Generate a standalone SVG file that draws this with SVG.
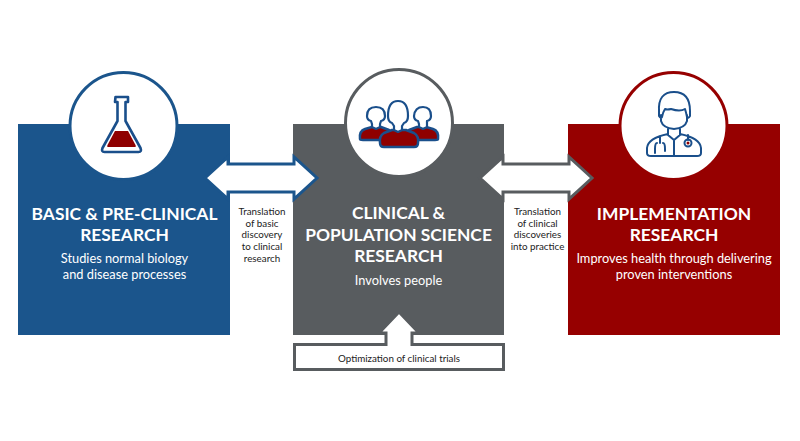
<svg xmlns="http://www.w3.org/2000/svg" width="800" height="441" viewBox="0 0 800 441">
<style>
text{font-family:Lato,"Open Sans","Liberation Sans",sans-serif;text-anchor:middle}
.t{font-size:17.400px;font-weight:700;fill:#fff}
.s{font-size:12.800px;fill:#fff}
.l{font-size:9.800px;fill:#222}
.c{fill:#fff;stroke-width:3}
.i{fill:none;stroke:#1a4f8b;stroke-width:2;stroke-linejoin:round;stroke-linecap:round}
.r{fill:#8f0000;stroke:#1a4f8b;stroke-width:2.500;stroke-linejoin:round}
.w{fill:#fff;stroke:#1a4f8b;stroke-width:2.200;stroke-linejoin:round}
</style>
<rect width="800" height="441" fill="#fff"/>
<g id="basic">
<rect x="18" y="124" width="212" height="211" fill="#1b558c"/>
<circle class="c" cx="123.500" cy="126" r="53.500" stroke="#1b558c"/>
<path class="i" style="stroke-width:2.600" d="M115.500 97h12.500v5h-2.500v19l15 27q1.500 4-2 4h-34q-3.500 0-2-4l15-27v-19h-2.500z"/>
<path d="M115 131h13l7.500 14q1 2-1 2h-26q-2 0-1-2z" fill="#8f0000"/>
<text class="t" x="124.500" y="220">BASIC &amp; PRE-CLINICAL</text>
<text class="t" x="124.500" y="241">RESEARCH</text>
<text class="s" x="124.500" y="263">Studies normal biology</text>
<text class="s" x="124.500" y="279">and disease processes</text>
</g>
<g id="clinical">
<rect x="293" y="124" width="211" height="211" fill="#585c5f"/>
<circle class="c" cx="399" cy="123" r="53.500" stroke="#585c5f"/>
<path class="r" d="M360 139q-1-8 5-10l7-2h9l8 3 8 10-6 0H363q-3 0-3-1zM438 139q1-8-5-10l-7-2h-9l-8 3-8 10 6 0h28q3 0 3-1z"/>
<path class="w" d="M371 121q-4-1-4-5 0-9 9-9t9 9q0 4-4 5l-1 3v3l-4 2-4-2v-3zM427 121q4-1 4-5 0-9-8-9t-9 9q0 4 4 5l1 3v3l4 2 4-2v-3z"/>
<path class="r" d="M380 143q-1-7 4-10l8-3h14l8 3q5 3 4 10 0 4-4 4h-30q-4 0-4-4z"/>
<path class="w" d="M392 123q-4-1-4-7 0-15 10-15t10 15q0 6-4 7l-2 3v4l-4 2-4-2v-4z"/>
<text class="t" x="398.500" y="219">CLINICAL &amp;</text>
<text class="t" x="398.500" y="241">POPULATION SCIENCE</text>
<text class="t" x="398.500" y="262">RESEARCH</text>
<text class="s" x="398.500" y="285">Involves people</text>
</g>
<g id="implementation">
<rect x="568" y="124" width="212" height="211" fill="#960000"/>
<circle class="c" cx="673.500" cy="126" r="53.500" stroke="#960000"/>
<path class="i" d="M659 111q-1-19 15-19t16 19v5q-2 3-3 1-1-5-2-8-5 3-14 0-4 1-6 0-2 3-3 8-1 2-3-1zM661 115v6q2 7 13 8 11-1 13-8v-6M668 129v6l6 5 6-5v-6M668 134q-20 4-21 14v5q0 3 4 3h46q4 0 4-3v-5q-1-10-21-14M674 140v16M660 136v7M657 143q-2 0-2 6v4M663 143q2 0 2 6v2M688 135v5"/>
<circle class="i" cx="688" cy="143" r="3.500"/>
<circle cx="688" cy="143" r="1.500" fill="#8f0000"/>
<text class="t" x="674" y="220">IMPLEMENTATION</text>
<text class="t" x="674" y="241">RESEARCH</text>
<text class="s" x="674" y="263">Improves health through delivering</text>
<text class="s" x="674" y="279">proven interventions</text>
</g>
<g id="connectors">
<path d="M205 178 228 157V164H294V157L317 178 294 199V192H228V199Z" fill="#fff" stroke="#1b558c" stroke-width="3"/>
<path d="M480 178 503 157V164H569V157L592 178 569 199V192H503V199Z" fill="#fff" stroke="#585c5f" stroke-width="3"/>
<path d="M294.500 344.500H386V333H379L399 312 419 333H412V344.500H503.500V369.500H294.500Z" fill="#fff" stroke="#585c5f" stroke-width="3"/>
</g>
<g id="labels">
<text class="l" x="262" y="215">Translation</text>
<text class="l" x="262" y="227">of basic</text>
<text class="l" x="262" y="238">discovery</text>
<text class="l" x="262" y="250">to clinical</text>
<text class="l" x="262" y="262">research</text>
<text class="l" x="537.500" y="215">Translation</text>
<text class="l" x="537.500" y="227">of clinical</text>
<text class="l" x="537.500" y="238">discoveries</text>
<text class="l" x="537.500" y="250">into practice</text>
<text class="l" x="399" y="362">Optimization of clinical trials</text>
</g>
</svg>
